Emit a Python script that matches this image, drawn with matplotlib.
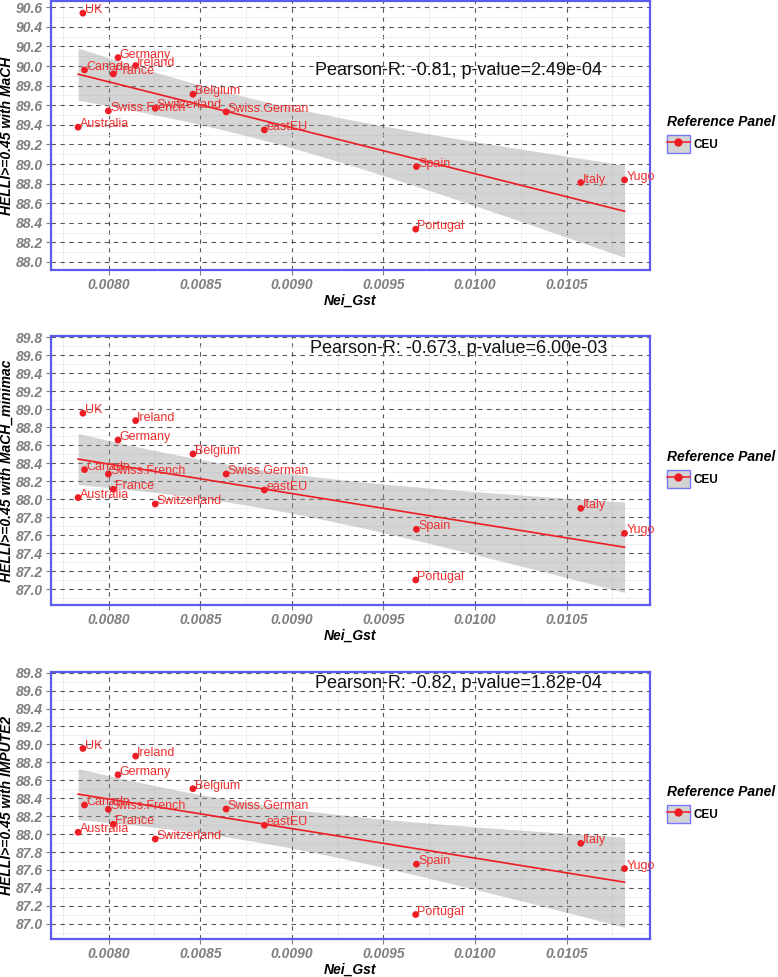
import numpy as np
import matplotlib
matplotlib.use('Agg')
import matplotlib.pyplot as plt
from matplotlib.patches import Rectangle
from matplotlib.lines import Line2D
from matplotlib.ticker import MultipleLocator, FormatStrFormatter

plt.rcParams['font.family'] = ['Liberation Sans', 'DejaVu Sans']

countries = ['UK', 'Germany', 'Ireland', 'Canada', 'France', 'Belgium',
             'Switzerland', 'Swiss.French', 'Swiss.German', 'Australia',
             'eastEU', 'Spain', 'Portugal', 'Italy', 'Yugo']
nei_gst = [0.007859, 0.008051, 0.008147, 0.007868, 0.008025, 0.008460,
           0.008254, 0.007998, 0.008641, 0.007833, 0.008850, 0.009680,
           0.009676, 0.010577, 0.010816]
mach = [90.54, 90.086, 90.005, 89.96, 89.92, 89.712, 89.569, 89.542,
        89.532, 89.376, 89.348, 88.974, 88.335, 88.811, 88.838]
minimac = [88.956, 88.659, 88.874, 88.330, 88.111, 88.504, 87.948, 88.281,
           88.281, 88.019, 88.104, 87.667, 87.104, 87.900, 87.622]
impute2 = [88.954, 88.661, 88.869, 88.324, 88.109, 88.506, 87.945, 88.276,
           88.279, 88.020, 88.098, 87.664, 87.103, 87.897, 87.615]

ylabels = ['HELLI>=0.45 with MaCH', 'HELLI>=0.45 with MaCH_minimac',
           'HELLI>=0.45 with IMPUTE2']
stats = ['Pearson-R: -0.81, p-value=2.49e-04',
         'Pearson-R: -0.673, p-value=6.00e-03',
         'Pearson-R: -0.82, p-value=1.82e-04']
stat_y = [89.953, 89.67, 89.68]
ylims = [(87.918, 90.664), (86.826, 89.814), (86.83, 89.807)]
yticks = [(88.0, 90.6), (87.0, 89.8), (87.0, 89.8)]
T_975 = 2.1604  # t quantile, df = 13

RED = '#ee1c24'
BLUE = '#5b5bf0'
GREY_TXT = '#7f7f7f'

fig = plt.figure(figsize=(7.78, 9.77), dpi=100)
# axes boxes in pixels (top, bottom)
boxes = [(1, 270), (336, 605), (672, 939)]
left, right = 51, 650

x = np.array(nei_gst)
for i, ys in enumerate([mach, minimac, impute2]):
    top, bot = boxes[i]
    ax = fig.add_axes([left / 778, 1 - bot / 977, (right - left) / 778, (bot - top) / 977])
    y = np.array(ys)

    # linear fit with 95% confidence band
    n = len(x)
    b, a = np.polyfit(x, y, 1)
    xs = np.linspace(x.min(), x.max(), 80)
    yhat = a + b * xs
    resid = y - (a + b * x)
    s = np.sqrt(np.sum(resid ** 2) / (n - 2))
    sxx = np.sum((x - x.mean()) ** 2)
    se = s * np.sqrt(1 / n + (xs - x.mean()) ** 2 / sxx)
    ax.fill_between(xs, yhat - T_975 * se, yhat + T_975 * se, color='#999999',
                    alpha=0.42, lw=0, zorder=2)
    ax.plot(xs, yhat, color=RED, lw=1.2, zorder=3)

    ax.scatter(x, y, s=24, color=RED, zorder=4, edgecolors='none')
    for name, xv, yv in zip(countries, x, y):
        ax.annotate(name, (xv, yv), xytext=(1.2, 0), textcoords='offset points',
                    ha='left', va='baseline', fontsize=9, color='#f03030', zorder=5)

    ax.text(0.009908, stat_y[i], stats[i], ha='center', va='center',
            fontsize=13, color='#111111', zorder=6)

    ax.set_xlim(0.007685, 0.010955)
    ax.set_ylim(*ylims[i])
    ax.set_xticks(np.arange(0.0080, 0.01051, 0.0005))
    ax.xaxis.set_major_formatter(FormatStrFormatter('%.4f'))
    ax.set_yticks(np.arange(yticks[i][0], yticks[i][1] + 0.01, 0.2))
    ax.yaxis.set_major_formatter(FormatStrFormatter('%.1f'))
    ax.xaxis.set_minor_locator(MultipleLocator(0.00025))
    ax.yaxis.set_minor_locator(MultipleLocator(0.1))

    ax.grid(which='major', color='#555555', ls=(0, (4, 4)), lw=0.8, zorder=1)
    ax.grid(which='minor', color='#ececec', ls='-', lw=0.6, zorder=0)
    ax.set_axisbelow(True)
    ax.tick_params(which='minor', length=0)
    ax.tick_params(which='major', length=3.5, width=0.8, color=GREY_TXT,
                   labelsize=10, labelcolor=GREY_TXT, pad=2.5)
    for lab in ax.get_xticklabels() + ax.get_yticklabels():
        lab.set_fontweight('bold')
        lab.set_fontstyle('italic')
    for sp in ax.spines.values():
        sp.set_color(BLUE)
        sp.set_linewidth(1.6)

    ax.set_xlabel('Nei_Gst', fontsize=10, fontweight='bold', fontstyle='italic', labelpad=1)
    ax.set_ylabel(ylabels[i], fontsize=10, fontweight='bold', fontstyle='italic')
    ax.yaxis.set_label_coords(-0.062, 0.5)

    key = (Rectangle((0, 0), 1, 1, facecolor='#d4d4d4', edgecolor='#7777ff', lw=1.0),
           Line2D([0], [0], color=RED, lw=1.1, marker='o', markersize=5,
                  markeredgecolor=RED))
    leg = ax.legend([key], ['CEU'], title='Reference Panel', loc='center left',
                    bbox_to_anchor=(1.02, 0.505), frameon=False,
                    handlelength=1.95, handleheight=1.95, handletextpad=0.3,
                    prop={'size': 8.5, 'weight': 'bold'}, borderaxespad=0)
    leg.get_title().set_fontsize(10)
    leg.get_title().set_fontweight('bold')
    leg.get_title().set_fontstyle('italic')
    leg._legend_box.align = 'left'

fig.savefig('out.png', dpi=100)
